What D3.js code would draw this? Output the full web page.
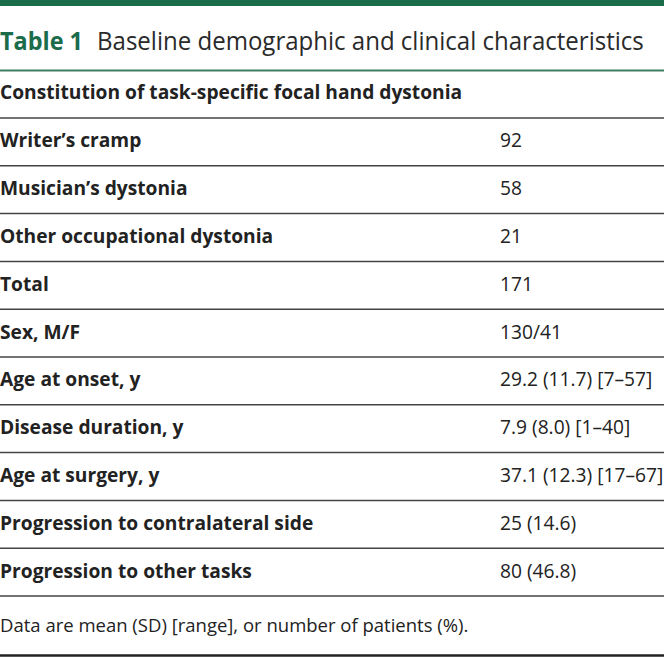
<!DOCTYPE html>
<html><head><meta charset="utf-8">
<script src="https://cdn.jsdelivr.net/npm/d3@7"></script>
<style>html,body{margin:0;padding:0;background:#fff;}svg{display:block;}</style>
</head><body><div id="c"></div>
<script>
const tableLabel = "Table 1";
const tableTitle = "Baseline demographic and clinical characteristics";
const sectionHeader = "Constitution of task-specific focal hand dystonia";
const rowLabels = ["Writer\u2019s cramp","Musician\u2019s dystonia","Other occupational dystonia","Total","Sex, M/F","Age at onset, y","Disease duration, y","Age at surgery, y","Progression to contralateral side","Progression to other tasks"];
const rowValues = ["92","58","21","171","130/41","29.2 (11.7) [7\u201357]","7.9 (8.0) [1\u201340]","37.1 (12.3) [17\u201367]","25 (14.6)","80 (46.8)"];
const footnote = "Data are mean (SD) [range], or number of patients (%).";

const W=664,H=657, green="#1b6c4b", ink="#222";
const svg=d3.select("#c").append("svg").attr("width",W).attr("height",H);
svg.append("rect").attr("x",0).attr("y",0).attr("width",W).attr("height",6).attr("fill",green);

function fitText(sel, x, target){
  const w=sel.node().getComputedTextLength();
  const k=target/w;
  sel.attr("transform",`translate(${x},0) scale(${k},1)`);
}
const t1=svg.append("text").attr("x",0).attr("y",50).attr("font-family","Open Sans").attr("font-size",25)
  .attr("font-weight",700).attr("fill",green).text(tableLabel);
fitText(t1,0,83);
const t2=svg.append("text").attr("x",0).attr("y",50).attr("font-family","Open Sans").attr("font-size",25)
  .attr("font-weight",400).attr("fill","#2a2a2a").text(tableTitle);
fitText(t2,97,547);

svg.append("line").attr("x1",0).attr("x2",W).attr("y1",70.5).attr("y2",70.5).attr("stroke","#3f7d64").attr("stroke-width",2);
svg.append("text").attr("x",0).attr("y",98.5).attr("font-family","Open Sans").attr("font-size",19.2).attr("font-weight",700).attr("fill",ink).text(sectionHeader);

const y=d3.scaleBand().domain(d3.range(rowLabels.length)).range([118,596]);
const g=svg.append("g");
g.selectAll("line.r").data(d3.range(rowLabels.length+1)).join("line")
  .attr("x1",0).attr("x2",W)
  .attr("y1",i=>i<rowLabels.length?y(i):596).attr("y2",i=>i<rowLabels.length?y(i):596)
  .attr("stroke","#444").attr("stroke-width",1.5);
g.selectAll("text.l").data(rowLabels).join("text")
  .attr("x",0).attr("y",(d,i)=>y(i)+y.bandwidth()/2+5.5)
  .attr("font-family","Open Sans").attr("font-size",19.2).attr("font-weight",700).attr("fill",ink).text(d=>d);
g.selectAll("text.v").data(rowValues).join("text")
  .attr("x",500).attr("y",(d,i)=>y(i)+y.bandwidth()/2+5.5)
  .attr("font-family","Open Sans").attr("font-size",19.2).attr("font-weight",400).attr("fill",ink).text(d=>d);

svg.append("text").attr("x",0).attr("y",632).attr("font-family","Open Sans").attr("font-size",18.5).attr("fill",ink).text(footnote);
svg.append("line").attr("x1",0).attr("x2",W).attr("y1",655.5).attr("y2",655.5).attr("stroke","#222").attr("stroke-width",2.5);
</script></body></html>
